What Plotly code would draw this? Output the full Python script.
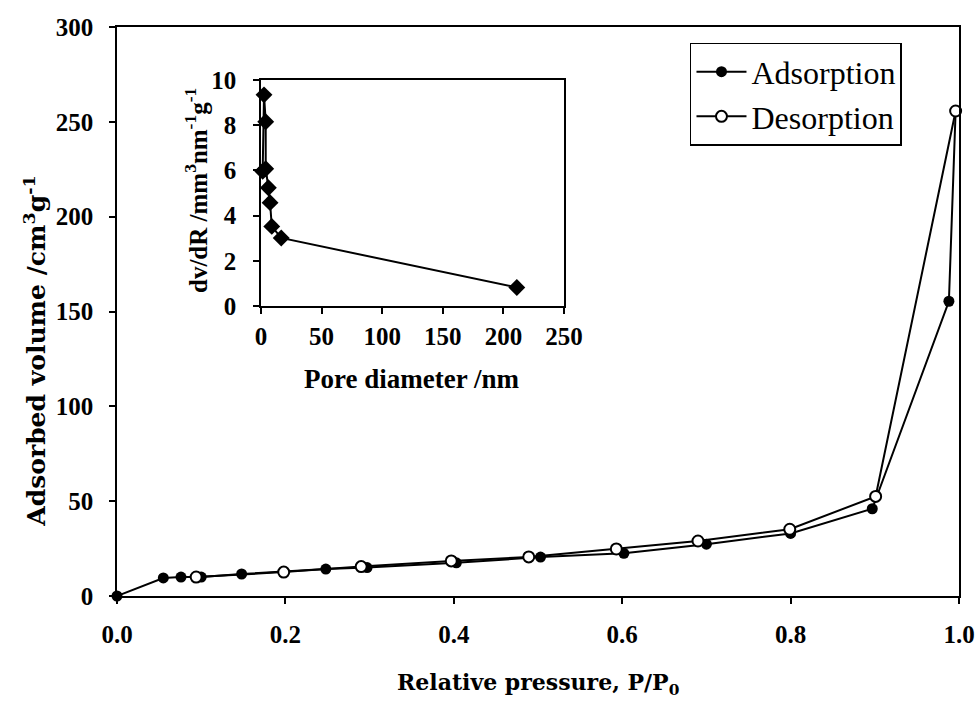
import plotly.graph_objects as go

# Nitrogen isotherm: adsorption branch
ads_p = [0.0, 0.055, 0.076, 0.100, 0.148, 0.248, 0.297, 0.403, 0.503, 0.602, 0.700, 0.800, 0.897, 0.988, 0.996]
ads_v = [0.0, 9.5, 10.0, 10.0, 11.6, 14.2, 15.0, 17.5, 20.5, 22.5, 27.3, 33.0, 46.0, 155.4, 255.7]

# Desorption branch
des_p = [0.094, 0.198, 0.290, 0.397, 0.489, 0.593, 0.690, 0.799, 0.901, 0.996]
des_v = [10.0, 12.6, 15.5, 18.5, 20.6, 24.8, 29.0, 35.2, 52.5, 255.7]

# Pore size distribution (inset)
pore_d = [1.4, 2.5, 3.9, 3.9, 6.1, 7.5, 8.9, 16.7, 211.0]
pore_dvdr = [5.96, 9.34, 8.15, 6.07, 5.23, 4.57, 3.52, 3.01, 0.82]

x_ticks = [0.0, 0.2, 0.4, 0.6, 0.8, 1.0]
y_ticks = [0, 50, 100, 150, 200, 250, 300]
inset_x_ticks = [0, 50, 100, 150, 200, 250]
inset_y_ticks = [0, 2, 4, 6, 8, 10]

SERIF = "Liberation Serif, Times New Roman, serif"
WIDE_SERIF = "DejaVu Serif, serif"
BOLD_TICK = dict(family=SERIF, size=25, color="black", weight="bold")

fig = go.Figure()

fig.add_trace(go.Scatter(
    x=ads_p, y=ads_v, name="Adsorption", mode="lines+markers",
    line=dict(color="black", width=2),
    marker=dict(symbol="circle", size=11, color="black"),
    cliponaxis=False,
))
fig.add_trace(go.Scatter(
    x=des_p, y=des_v, name="Desorption", mode="lines+markers",
    line=dict(color="black", width=2),
    marker=dict(symbol="circle", size=11, color="white", line=dict(color="black", width=2)),
    cliponaxis=False,
))
fig.add_trace(go.Scatter(
    x=pore_d, y=pore_dvdr, mode="lines+markers", showlegend=False,
    line=dict(color="black", width=2),
    marker=dict(symbol="diamond", size=13, color="black"),
    xaxis="x2", yaxis="y2", cliponaxis=False,
))

axis_common = dict(
    showline=True, linecolor="black", linewidth=1.5, mirror=True,
    ticks="outside", ticklen=6, tickcolor="black", tickwidth=1.5,
    showgrid=False, zeroline=False, tickfont=BOLD_TICK, automargin=False,
)

fig.update_layout(
    width=977, height=702,
    margin=dict(l=117, r=18, t=27, b=106, autoexpand=False),
    paper_bgcolor="white", plot_bgcolor="white",
    xaxis=dict(range=[0, 1], tickvals=x_ticks, ticktext=[f"{v:.1f}" for v in x_ticks],
               ticklabelstandoff=9, **axis_common),
    yaxis=dict(range=[0, 300], tickvals=y_ticks, ticklabelstandoff=11, **axis_common),
    xaxis2=dict(domain=[0.171, 0.531], anchor="y2", range=[0, 250], tickvals=inset_x_ticks,
                ticklabelstandoff=1, **axis_common),
    yaxis2=dict(domain=[0.5097, 0.907], anchor="x2", range=[0, 10], tickvals=inset_y_ticks,
                ticklabelstandoff=12, **axis_common),
    legend=dict(
        x=0.6805, y=0.972, xanchor="left", yanchor="top",
        bgcolor="white", bordercolor="black", borderwidth=1.5,
        font=dict(family=SERIF, size=32, color="black"),
        itemwidth=50, tracegroupgap=0,
    ),
    showlegend=True,
)

fig.add_annotation(text="Relative pressure, P/P<sub>0</sub>", xref="paper", yref="paper",
                   x=0.5, y=-0.155, showarrow=False,
                   font=dict(family=WIDE_SERIF, size=22, color="black", weight="bold"),
                   xanchor="center", yanchor="middle")
fig.add_annotation(text="Adsorbed volume /cm<sup>3</sup>g<sup>-1</sup>", xref="paper", yref="paper",
                   x=-0.097, y=0.43, showarrow=False,
                   font=dict(family=WIDE_SERIF, size=25, color="black", weight="bold"),
                   textangle=-90, xanchor="center", yanchor="middle")
fig.add_annotation(text="Pore diameter /nm", xref="paper", yref="paper",
                   x=0.35, y=0.382, showarrow=False,
                   font=dict(family=SERIF, size=27, color="black", weight="bold"),
                   xanchor="center", yanchor="middle")
fig.add_annotation(text="dv/dR /mm<sup>3</sup>nm<sup>-1</sup>g<sup>-1</sup>",
                   xref="paper", yref="paper",
                   x=0.094, y=0.712, showarrow=False,
                   font=dict(family=SERIF, size=25, color="black", weight="bold"),
                   textangle=-90, xanchor="center", yanchor="middle")

fig.write_html("out.html")
